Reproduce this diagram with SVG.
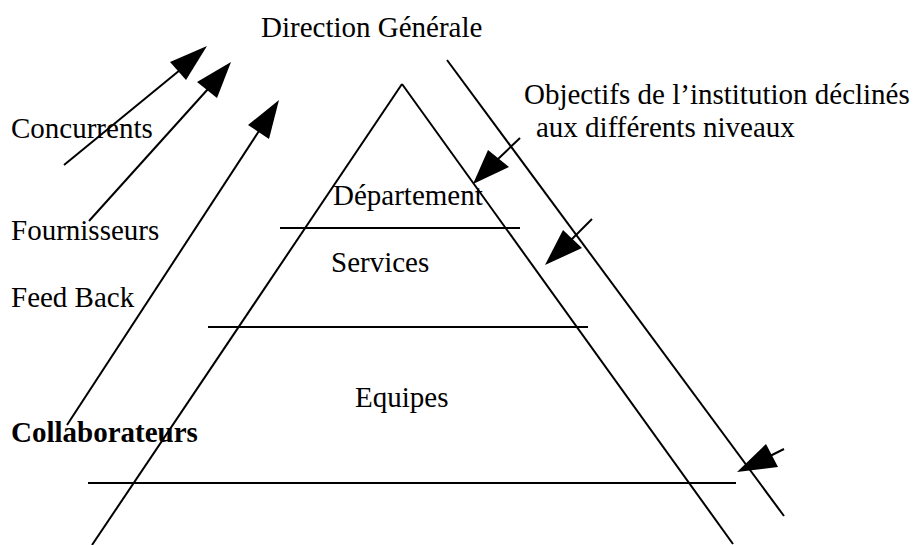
<svg xmlns="http://www.w3.org/2000/svg" width="915" height="545" viewBox="0 0 915 545">
<style>
text{font-family:"Liberation Serif","Times New Roman",serif;font-size:29px;fill:#000}
.b{font-weight:bold}
.ln{stroke:#000;stroke-width:2;fill:none}
.hd{fill:#000;stroke:none}
</style>
<rect width="915" height="545" fill="#fff"/>
<g id="pyramid">
<line class="ln" x1="402" y1="84" x2="92" y2="545"/>
<line class="ln" x1="402" y1="84" x2="733" y2="544"/>
<line class="ln" x1="280" y1="228" x2="520" y2="228"/>
<line class="ln" x1="208" y1="327" x2="588" y2="327"/>
<line class="ln" x1="88" y1="483" x2="736" y2="483"/>
<line class="ln" x1="447" y1="60" x2="784" y2="516"/>
</g>
<g id="direction"><text x="261" y="37">Direction Générale</text></g>
<g id="objectifs"><text x="524" y="104">Objectifs de l’institution déclinés</text><text x="536" y="137">aux différents niveaux</text></g>
<g id="concurrents"><text x="11" y="138">Concurrents</text></g>
<g id="fournisseurs"><text x="11" y="240">Fournisseurs</text></g>
<g id="feedback"><text x="11" y="307">Feed Back</text></g>
<g id="collaborateurs"><text class="b" x="11" y="442">Collaborateurs</text></g>
<g id="departement"><text x="333" y="205">Département</text></g>
<g id="services"><text x="331" y="272">Services</text></g>
<g id="equipes"><text x="355" y="407">Equipes</text></g>
<g id="connectors">
<line class="ln" x1="64" y1="165" x2="180" y2="70"/>
<polygon class="hd" points="207,46 170,62 186,80"/>
<line class="ln" x1="89" y1="221" x2="208" y2="89"/>
<polygon class="hd" points="231,62 197,82 217,98"/>
<line class="ln" x1="67" y1="425" x2="259" y2="131"/>
<polygon class="hd" points="279,100 248,125 269,139"/>
<line class="ln" x1="520" y1="138" x2="497" y2="160"/>
<polygon class="hd" points="473,184 488,150 509,167"/>
<line class="ln" x1="592" y1="219" x2="571" y2="240"/>
<polygon class="hd" points="545,265 563,230 582,248"/>
<line class="ln" x1="784" y1="449" x2="770" y2="456"/>
<polygon class="hd" points="737,472 766,444 778,467"/>
</g>
</svg>
